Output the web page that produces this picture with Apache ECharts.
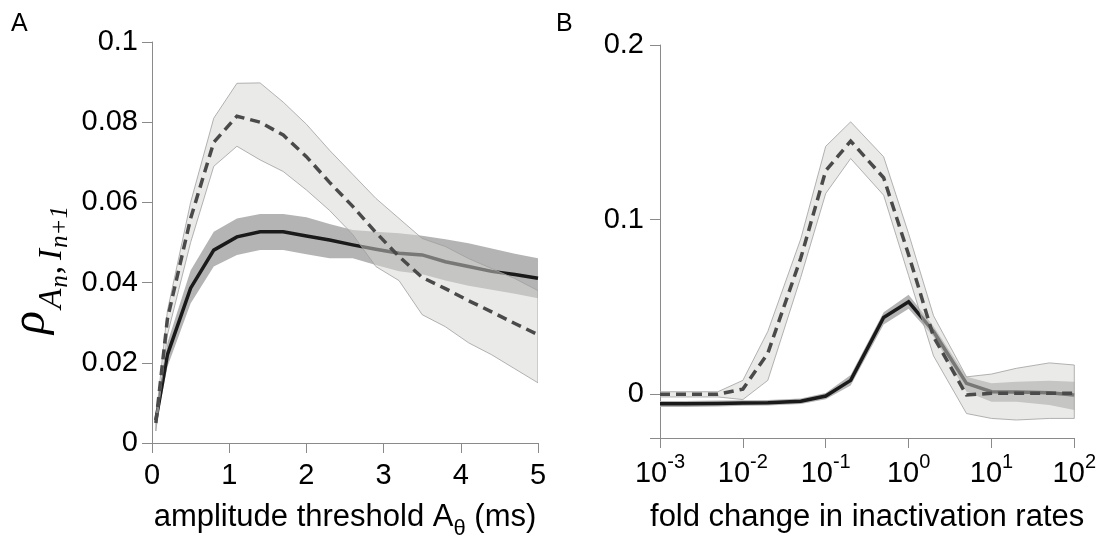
<!DOCTYPE html>
<html>
<head>
<meta charset="utf-8">
<script src="https://cdn.jsdelivr.net/npm/echarts/dist/echarts.min.js"></script>
<style>
html,body{margin:0;padding:0;background:#fff;}
#c{width:1099px;height:545px;}
</style>
</head>
<body>
<div id="c"></div>
<script>
// ---------- Panel A data ----------
const aX = [0.05, 0.2, 0.5, 0.8, 1.1, 1.4, 1.7, 2.0, 2.3, 2.6, 2.9, 3.2, 3.5, 3.8, 4.1, 4.4, 4.7, 5.0];
const aSolid = [0.0057, 0.022, 0.0386, 0.0481, 0.0514, 0.0527, 0.0527, 0.0516, 0.0506, 0.0494, 0.0483, 0.0473, 0.0469, 0.0452, 0.0440, 0.0428, 0.0420, 0.0411];
const aSolidHi = [0.007, 0.025, 0.043, 0.0527, 0.056, 0.0571, 0.0571, 0.0563, 0.0546, 0.0531, 0.0527, 0.0523, 0.0517, 0.0508, 0.0498, 0.0485, 0.0472, 0.0461];
const aSolidLo = [0.004, 0.019, 0.0348, 0.0440, 0.0469, 0.0481, 0.0481, 0.0471, 0.0461, 0.0461, 0.0444, 0.0428, 0.0421, 0.0405, 0.0392, 0.0382, 0.0372, 0.0361];
const aDash = [0.005, 0.031, 0.056, 0.075, 0.0815, 0.080, 0.0768, 0.0714, 0.065, 0.059, 0.0525, 0.0465, 0.0413, 0.0385, 0.0355, 0.0327, 0.0298, 0.027];
const aDashHi = [0.006, 0.033, 0.060, 0.081, 0.0897, 0.0898, 0.085, 0.0795, 0.073, 0.067, 0.061, 0.056, 0.051, 0.049, 0.046, 0.0435, 0.041, 0.038];
const aDashLo = [0.003, 0.027, 0.050, 0.069, 0.074, 0.0706, 0.0677, 0.0631, 0.058, 0.052, 0.044, 0.0405, 0.032, 0.029, 0.025, 0.022, 0.0185, 0.015];

// ---------- Panel B data ----------
const bX = [0.001, 0.002, 0.005, 0.01, 0.02, 0.05, 0.1, 0.2, 0.5, 1, 2, 5, 10, 20, 50, 100];
const bSolid = [-0.0054, -0.0054, -0.0052, -0.005, -0.0048, -0.004, -0.001, 0.008, 0.044, 0.053, 0.036, 0.0063, 0.0015, 0.0013, 0.0009, -0.0004];
const bSolidHi = [-0.0038, -0.0038, -0.0036, -0.0034, -0.0032, -0.0024, 0.0008, 0.011, 0.047, 0.057, 0.039, 0.010, 0.0063, 0.0072, 0.0078, 0.0072];
const bSolidLo = [-0.0072, -0.0072, -0.0069, -0.0066, -0.0064, -0.0056, -0.0028, 0.005, 0.040, 0.049, 0.033, 0.0015, -0.0042, -0.0042, -0.0061, -0.009];
const bDash = [0.0, 0.0, 0.0, 0.003, 0.0235, 0.078, 0.128, 0.145, 0.124, 0.08, 0.033, -0.0004, 0.0006, 0.0006, 0.0006, 0.0006];
const bDashHi = [0.0015, 0.0015, 0.0015, 0.008, 0.036, 0.089, 0.142, 0.156, 0.136, 0.092, 0.045, 0.010, 0.0116, 0.0149, 0.018, 0.0168];
const bDashLo = [-0.0015, -0.0015, -0.0015, -0.003, 0.008, 0.067, 0.115, 0.135, 0.114, 0.068, 0.022, -0.011, -0.0138, -0.0147, -0.0138, -0.0138];

// ---------- tick labels ----------
const aYTicks = [0, 0.02, 0.04, 0.06, 0.08, 0.1];
const aXTicks = [0, 1, 2, 3, 4, 5];
const bYLabels = [0, 0.1, 0.2];
const bYTicks = [-0.025, 0, 0.1, 0.2];

const SANS = 'Liberation Sans, Arial, Helvetica, sans-serif';
const SERIF = 'Liberation Serif, Times New Roman, serif';
const AXIS_GREY = '#8a8a8a';

function pairs(xs, ys) { return xs.map((x, i) => [x, ys[i]]); }

function band(xi, yi, xs, lo, hi, fill, stroke, z) {
  return {
    type: 'custom', xAxisIndex: xi, yAxisIndex: yi, z: z, silent: true, clip: true,
    data: [[xs[0], lo[0]]],
    renderItem: function (params, api) {
      const pts = [];
      for (let i = 0; i < xs.length; i++) pts.push(api.coord([xs[i], hi[i]]));
      for (let i = xs.length - 1; i >= 0; i--) pts.push(api.coord([xs[i], lo[i]]));
      return { type: 'polygon', shape: { points: pts },
        style: { fill: fill, stroke: stroke, lineWidth: stroke ? 0.8 : 0 } };
    }
  };
}
function line(xi, yi, xs, ys, color, dashed, z) {
  return {
    type: 'line', xAxisIndex: xi, yAxisIndex: yi, z: z, showSymbol: false, silent: true,
    data: pairs(xs, ys),
    lineStyle: { color: color, width: 3.5, type: dashed ? [10, 6] : 'solid', cap: 'butt', join: 'miter' }
  };
}

const tickLabel = { color: '#000', fontSize: 29, fontFamily: SANS };
const axisLine = { show: true, onZero: false, lineStyle: { color: AXIS_GREY, width: 1 } };
const axisTick = { show: true, length: 10, lineStyle: { color: AXIS_GREY, width: 1 } };

const chart = echarts.init(document.getElementById('c'), null, { renderer: 'canvas' });
chart.setOption({
  animation: false,
  backgroundColor: '#fff',
  grid: [
    { left: 152, top: 42, width: 386, height: 401 },
    { left: 660, top: 45, width: 423, height: 393 }
  ],
  xAxis: [
    {
      gridIndex: 0, type: 'value', min: 0, max: 5, interval: 1,
      axisLine: axisLine, axisTick: axisTick, splitLine: { show: false },
      axisLabel: Object.assign({ margin: 18, customValues: aXTicks }, tickLabel),
      name: '{t|amplitude threshold A}{s|θ}{t| (ms)}',
      nameLocation: 'middle', nameGap: 59,
      nameTextStyle: {
        color: '#000',
        rich: {
          t: { fontSize: 31, lineHeight: 31, fontFamily: SANS, color: '#000', verticalAlign: 'top' },
          s: { fontSize: 22, lineHeight: 22, fontFamily: SANS, color: '#000', verticalAlign: 'top', padding: [16, 0, 0, 0] }
        }
      }
    },
    {
      gridIndex: 1, type: 'log', logBase: 10, min: 0.001, max: 100, splitNumber: 5,
      axisLine: axisLine, axisTick: axisTick, splitLine: { show: false }, minorTick: { show: false },
      axisLabel: {
        margin: 14,
        formatter: function (v) {
          const e = Math.round(Math.log10(v));
          return '{b|10}{s|' + e + '}';
        },
        rich: {
          b: { fontSize: 29, lineHeight: 29, fontFamily: SANS, color: '#000', verticalAlign: 'top', padding: [7, 0, 0, 0] },
          s: { fontSize: 20, lineHeight: 20, fontFamily: SANS, color: '#000', verticalAlign: 'top' }
        }
      },
      name: 'fold change in inactivation rates',
      nameLocation: 'middle', nameGap: 64,
      nameTextStyle: { color: '#000', fontSize: 31, lineHeight: 31, fontFamily: SANS }
    }
  ],
  yAxis: [
    {
      gridIndex: 0, type: 'value', min: 0, max: 0.1, interval: 0.02,
      axisLine: axisLine, axisTick: axisTick, splitLine: { show: false },
      axisLabel: Object.assign({ margin: 14, customValues: aYTicks }, tickLabel)
    },
    {
      gridIndex: 1, type: 'value', min: -0.025, max: 0.2,
      axisLine: axisLine, splitLine: { show: false },
      axisTick: Object.assign({ customValues: bYTicks }, axisTick),
      axisLabel: Object.assign({ margin: 16, customValues: bYLabels }, tickLabel)
    }
  ],
  graphic: [
    { type: 'text', left: 11, top: 12, style: { text: 'A', fontSize: 25, fontFamily: SANS, fill: '#000' } },
    { type: 'text', left: 556, top: 12, style: { text: 'B', fontSize: 25, fontFamily: SANS, fill: '#000' } },
    {
      type: 'text', x: 31, y: 270, rotation: Math.PI / 2,
      style: {
        text: '{r|ρ}{s|A}{ss|n}{c|,}{s|I}{ss|n+1}',
        align: 'center', verticalAlign: 'middle',
        rich: {
          r: { fontSize: 48, lineHeight: 48, fontFamily: SERIF, fontStyle: 'italic', fill: '#000', verticalAlign: 'top', padding: [0, 2, 0, 0] },
          s: { fontSize: 33, lineHeight: 33, fontFamily: SERIF, fontStyle: 'italic', fill: '#000', verticalAlign: 'top', padding: [29, 0, 0, 0] },
          c: { fontSize: 33, lineHeight: 33, fontFamily: SERIF, fill: '#000', verticalAlign: 'top', padding: [29, 6, 0, 1] },
          ss: { fontSize: 25, lineHeight: 25, fontFamily: SERIF, fontStyle: 'italic', fill: '#000', verticalAlign: 'top', padding: [41, 0, 0, 1] }
        }
      }
    }
  ],
  series: [
    band(0, 0, aX, aSolidLo, aSolidHi, '#b4b4b4', null, 1),
    line(0, 0, aX, aSolid, '#1a1a1a', false, 2),
    band(0, 0, aX, aDashLo, aDashHi, 'rgba(214,214,209,0.5)', '#a0a0a0', 3),
    line(0, 0, aX, aDash, '#4a4a4a', true, 4),

    band(1, 1, bX, bSolidLo, bSolidHi, '#b4b4b4', null, 1),
    line(1, 1, bX, bSolid, '#1a1a1a', false, 2),
    band(1, 1, bX, bDashLo, bDashHi, 'rgba(214,214,209,0.5)', '#a0a0a0', 3),
    line(1, 1, bX, bDash, '#4a4a4a', true, 4)
  ]
});
</script>
</body>
</html>
